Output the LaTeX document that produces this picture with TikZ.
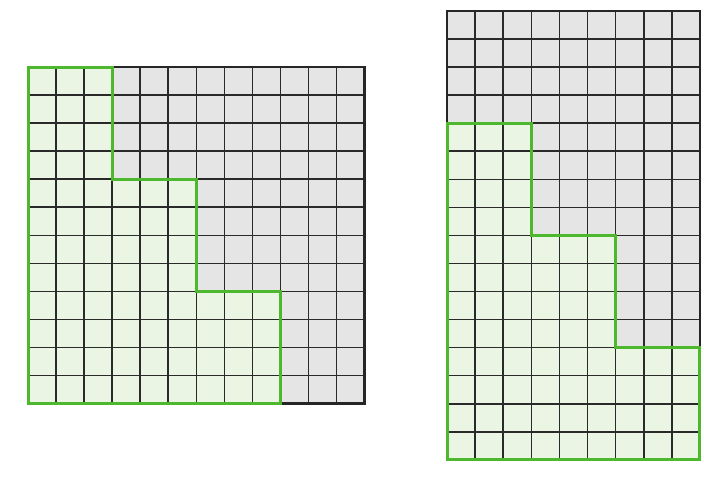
\documentclass[tikz,border=0pt]{standalone}
\definecolor{gridfill}{HTML}{E5E5E6}
\definecolor{greenfill}{HTML}{EBF5E3}
\definecolor{greenline}{HTML}{4DB82E}
\definecolor{gridline}{HTML}{2A2A2A}
\tikzset{
  gridlines/.style={draw=gridline, line width=1.6pt},
  border/.style={draw=black!85, line width=2.4pt},
  greenedge/.style={draw=greenline, line width=3pt, line join=miter},
}
\begin{document}
\begin{tikzpicture}[x=1pt,y=-1pt]
\useasboundingbox[fill=white] (0,0) rectangle (704,479);
% ---------- left grid ----------
\begin{scope}[shift={(28,67)}, x=28.05pt, y=-28.05pt]
  \fill[gridfill] (0,0) rectangle (12,12);
  \fill[greenfill] (0,0) -- (3,0) -- (3,4) -- (6,4) -- (6,8) -- (9,8) -- (9,12) -- (0,12) -- cycle;
  \foreach \i in {1,...,11} {
    \draw[gridlines] (\i,0) -- (\i,12);
    \draw[gridlines] (0,\i) -- (12,\i);
  }
  \draw[border] (0,0) rectangle (12,12);
  \draw[greenedge] (0,0) -- (3,0) -- (3,4) -- (6,4) -- (6,8) -- (9,8) -- (9,12) -- (0,12) -- cycle;
\end{scope}
% ---------- right grid ----------
\begin{scope}[shift={(447,11)}, x=28.1pt, y=-28.05pt]
  \fill[gridfill] (0,0) rectangle (9,16);
  \fill[greenfill] (0,4) -- (3,4) -- (3,8) -- (6,8) -- (6,12) -- (9,12) -- (9,16) -- (0,16) -- cycle;
  \foreach \i in {1,...,8} {
    \draw[gridlines] (\i,0) -- (\i,16);
  }
  \foreach \j in {1,...,15} {
    \draw[gridlines] (0,\j) -- (9,\j);
  }
  \draw[border] (0,0) rectangle (9,16);
  \draw[greenedge] (0,4) -- (3,4) -- (3,8) -- (6,8) -- (6,12) -- (9,12) -- (9,16) -- (0,16) -- cycle;
\end{scope}
\end{tikzpicture}
\end{document}
